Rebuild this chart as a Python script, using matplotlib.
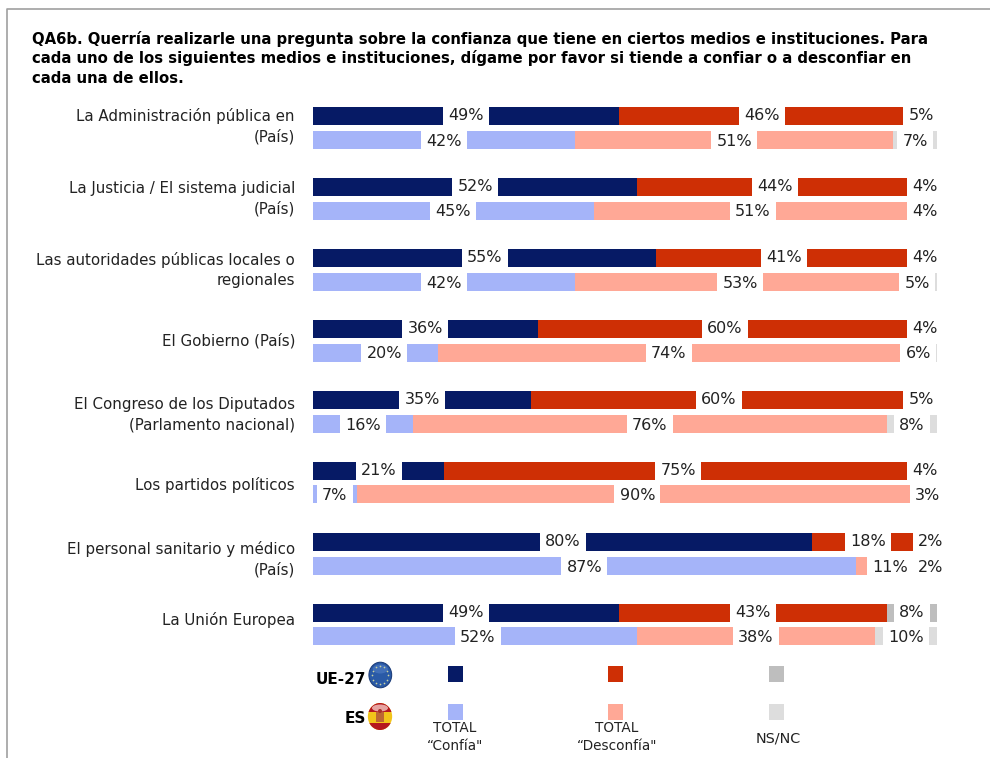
# Confianza en medios e instituciones: UE-27 frente a ES
import numpy as np
import matplotlib
matplotlib.use('Agg')
import matplotlib.pyplot as plt
from matplotlib.patches import Circle, Ellipse, Rectangle

plt.rcParams['font.family'] = 'DejaVu Sans'

# ================== DATOS ==================
titulo = ["QA6b. Querría realizarle una pregunta sobre la confianza que tiene en ciertos medios e instituciones. Para",
          "cada uno de los siguientes medios e instituciones, dígame por favor si tiende a confiar o a desconfiar en",
          "cada una de ellos."]
categorias = ['La Administración pública en\n(País)',
              'La Justicia / El sistema judicial\n(País)',
              'Las autoridades públicas locales o\nregionales',
              'El Gobierno (País)',
              'El Congreso de los Diputados\n(Parlamento nacional)',
              'Los partidos políticos',
              'El personal sanitario y médico\n(País)',
              'La Unión Europea']
ue_confia = [49, 52, 55, 36, 35, 21, 80, 49]
ue_desconfia = [46, 44, 41, 60, 60, 75, 18, 43]
ue_nsnc = [5, 4, 4, 4, 5, 4, 2, 8]
es_confia = [42, 45, 42, 20, 16, 7, 87, 52]
es_desconfia = [51, 51, 53, 74, 76, 90, 11, 38]
es_nsnc = [7, 4, 5, 6, 8, 3, 2, 10]

# colores
AZUL, ROJO, GRIS = '#061A65', '#CE2F05', '#BEBEBE'
AZUL_C, ROJO_C, GRIS_C = '#A5B4F9', '#FFA896', '#DDDDDD'

# ================== FIGURA ==================
W, H = 990, 758
fig = plt.figure(figsize=(W / 100, H / 100), dpi=100, facecolor='white')

# capa en pixeles para texto y decoracion
capa = fig.add_axes([0, 0, 1, 1])
capa.set_xlim(0, W)
capa.set_ylim(H, 0)
capa.axis('off')

# ejes de las barras: 0-100% entre x=313 y x=937, una fila cada 71 px
PASO = 71
Y0 = 128
top, bottom = 100, 650
ax = fig.add_axes([313 / W, 1 - bottom / H, (937 - 313) / W, (bottom - top) / H])
ax.set_xlim(0, 100)
ax.set_ylim((bottom - Y0) / PASO, (top - Y0) / PASO)
ax.axis('off')
ax.patch.set_alpha(0)

alto = 18 / PASO
sep = 12 / PASO
px = 100 / 624  # unidades de % por pixel
filas = np.arange(len(categorias))

# etiquetas que en el original no caen en el centro del segmento (px)
ajuste_es = {(3, 0): 9, (2, 2): -4, (7, 0): 2.5}


def fila_barras(y, serie1, serie2, serie3, colores, ajuste={}, dy_txt=0.0):
    s1, s2, s3 = [np.array(s, dtype=float) for s in (serie1, serie2, serie3)]
    ax.barh(y, s1, alto, color=colores[0], linewidth=0)
    ax.barh(y, s2, alto, left=s1, color=colores[1], linewidth=0)
    ax.barh(y, s3, alto, left=s1 + s2, color=colores[2], linewidth=0)
    # etiqueta sobre un hueco blanco centrado en cada segmento
    for i, (yi, a, b, c) in enumerate(zip(y, s1, s2, s3)):
        for j, (ini, val) in enumerate(((0, a), (a, b), (a + b, c))):
            centro = ini + val / 2 + ajuste.get((i, j), 0) * px
            ancho = (46 if val >= 10 else 36) * px
            ax.barh(yi, ancho, alto + 0.01, left=centro - ancho / 2, color='white',
                    linewidth=0, zorder=3, clip_on=False)
            ax.text(centro, yi + dy_txt / PASO, f'{val:.0f}%', ha='center', va='center',
                    fontsize=11.5, color='#222222', zorder=4, clip_on=False)


y_ue = filas - sep
y_es = filas + sep
y_es[5] -= 1 / PASO
y_es[7] -= 1 / PASO
fila_barras(y_ue, ue_confia, ue_desconfia, ue_nsnc, (AZUL, ROJO, GRIS), dy_txt=-0.5)
fila_barras(y_es, es_confia, es_desconfia, es_nsnc, (AZUL_C, ROJO_C, GRIS_C), ajuste_es, dy_txt=1)

# ================== TEXTOS ==================
for linea, y in zip(titulo, [44, 63.5, 83]):
    capa.text(32, y, linea, fontsize=10.73, fontweight='bold', color='black',
              ha='left', va='baseline')

# linea base de la primera linea de cada etiqueta
y_etiquetas = [121, 193, 265, 346, 409, 490, 554, 625]
for txt, y in zip(categorias, y_etiquetas):
    for n, linea in enumerate(txt.split('\n')):
        capa.text(295, y + 20.5 * n, linea, ha='right', va='baseline', fontsize=10.8, color='#222222')

# marco
capa.plot([6.5, 6.5, W], [H, 8.5, 8.5], color='#A0A0A0', lw=1.2, clip_on=False)

# ================== LEYENDA ==================
capa.text(366, 684, 'UE-27', ha='right', va='baseline', fontsize=11, fontweight='bold', color='black')
capa.text(366, 723, 'ES', ha='right', va='baseline', fontsize=11, fontweight='bold', color='black')

for x, c1, c2 in [(448, AZUL, AZUL_C), (608, ROJO, ROJO_C), (769, GRIS, GRIS_C)]:
    capa.add_patch(Rectangle((x, 666), 15, 16, color=c1, lw=0))
    capa.add_patch(Rectangle((x, 704), 15, 16, color=c2, lw=0))

for x, linea2 in [(455, '\u201cConfía"'), (617, '\u201cDesconfía"')]:
    capa.text(x, 732, 'TOTAL', ha='center', va='baseline', fontsize=9.8, color='#222222')
    capa.text(x, 750, linea2, ha='center', va='baseline', fontsize=9.8, color='#222222')
capa.text(778, 742, 'NS/NC', ha='center', va='baseline', fontsize=10.4, color='#222222')

# globo UE
capa.add_patch(Ellipse((380.3, 675), 22.7, 25.5, fc='#2A5AA6', ec='#1E3F7C', lw=0.8))
capa.add_patch(Ellipse((380.3, 669), 15, 9, fc='#5F8AD0', ec='none', alpha=0.45))
ang = np.arange(12) * np.pi / 6
capa.scatter(380.3 + 8 * np.cos(ang), 675 + 9 * np.sin(ang), s=1.5, color='#C9D2A0', lw=0, zorder=3)

# globo ES
fondo = Ellipse((380, 716.5), 24.3, 27, fc='#F2C41A', ec='none')
capa.add_patch(fondo)
for y0, h in [(702, 10), (723, 8)]:
    r = Rectangle((366, y0), 28, h, fc='#B5171F', ec='none')
    capa.add_patch(r)
    r.set_clip_path(fondo)
capa.add_patch(Ellipse((380, 708), 16, 7, fc='#F3C9C4', ec='none', alpha=0.8))
capa.add_patch(Rectangle((376, 712), 8, 10, fc='#B0503A', ec='none', alpha=0.8))
capa.add_patch(Circle((380, 711), 2, fc='#A8322A', ec='none'))

fig.savefig('out.png', dpi=100)
